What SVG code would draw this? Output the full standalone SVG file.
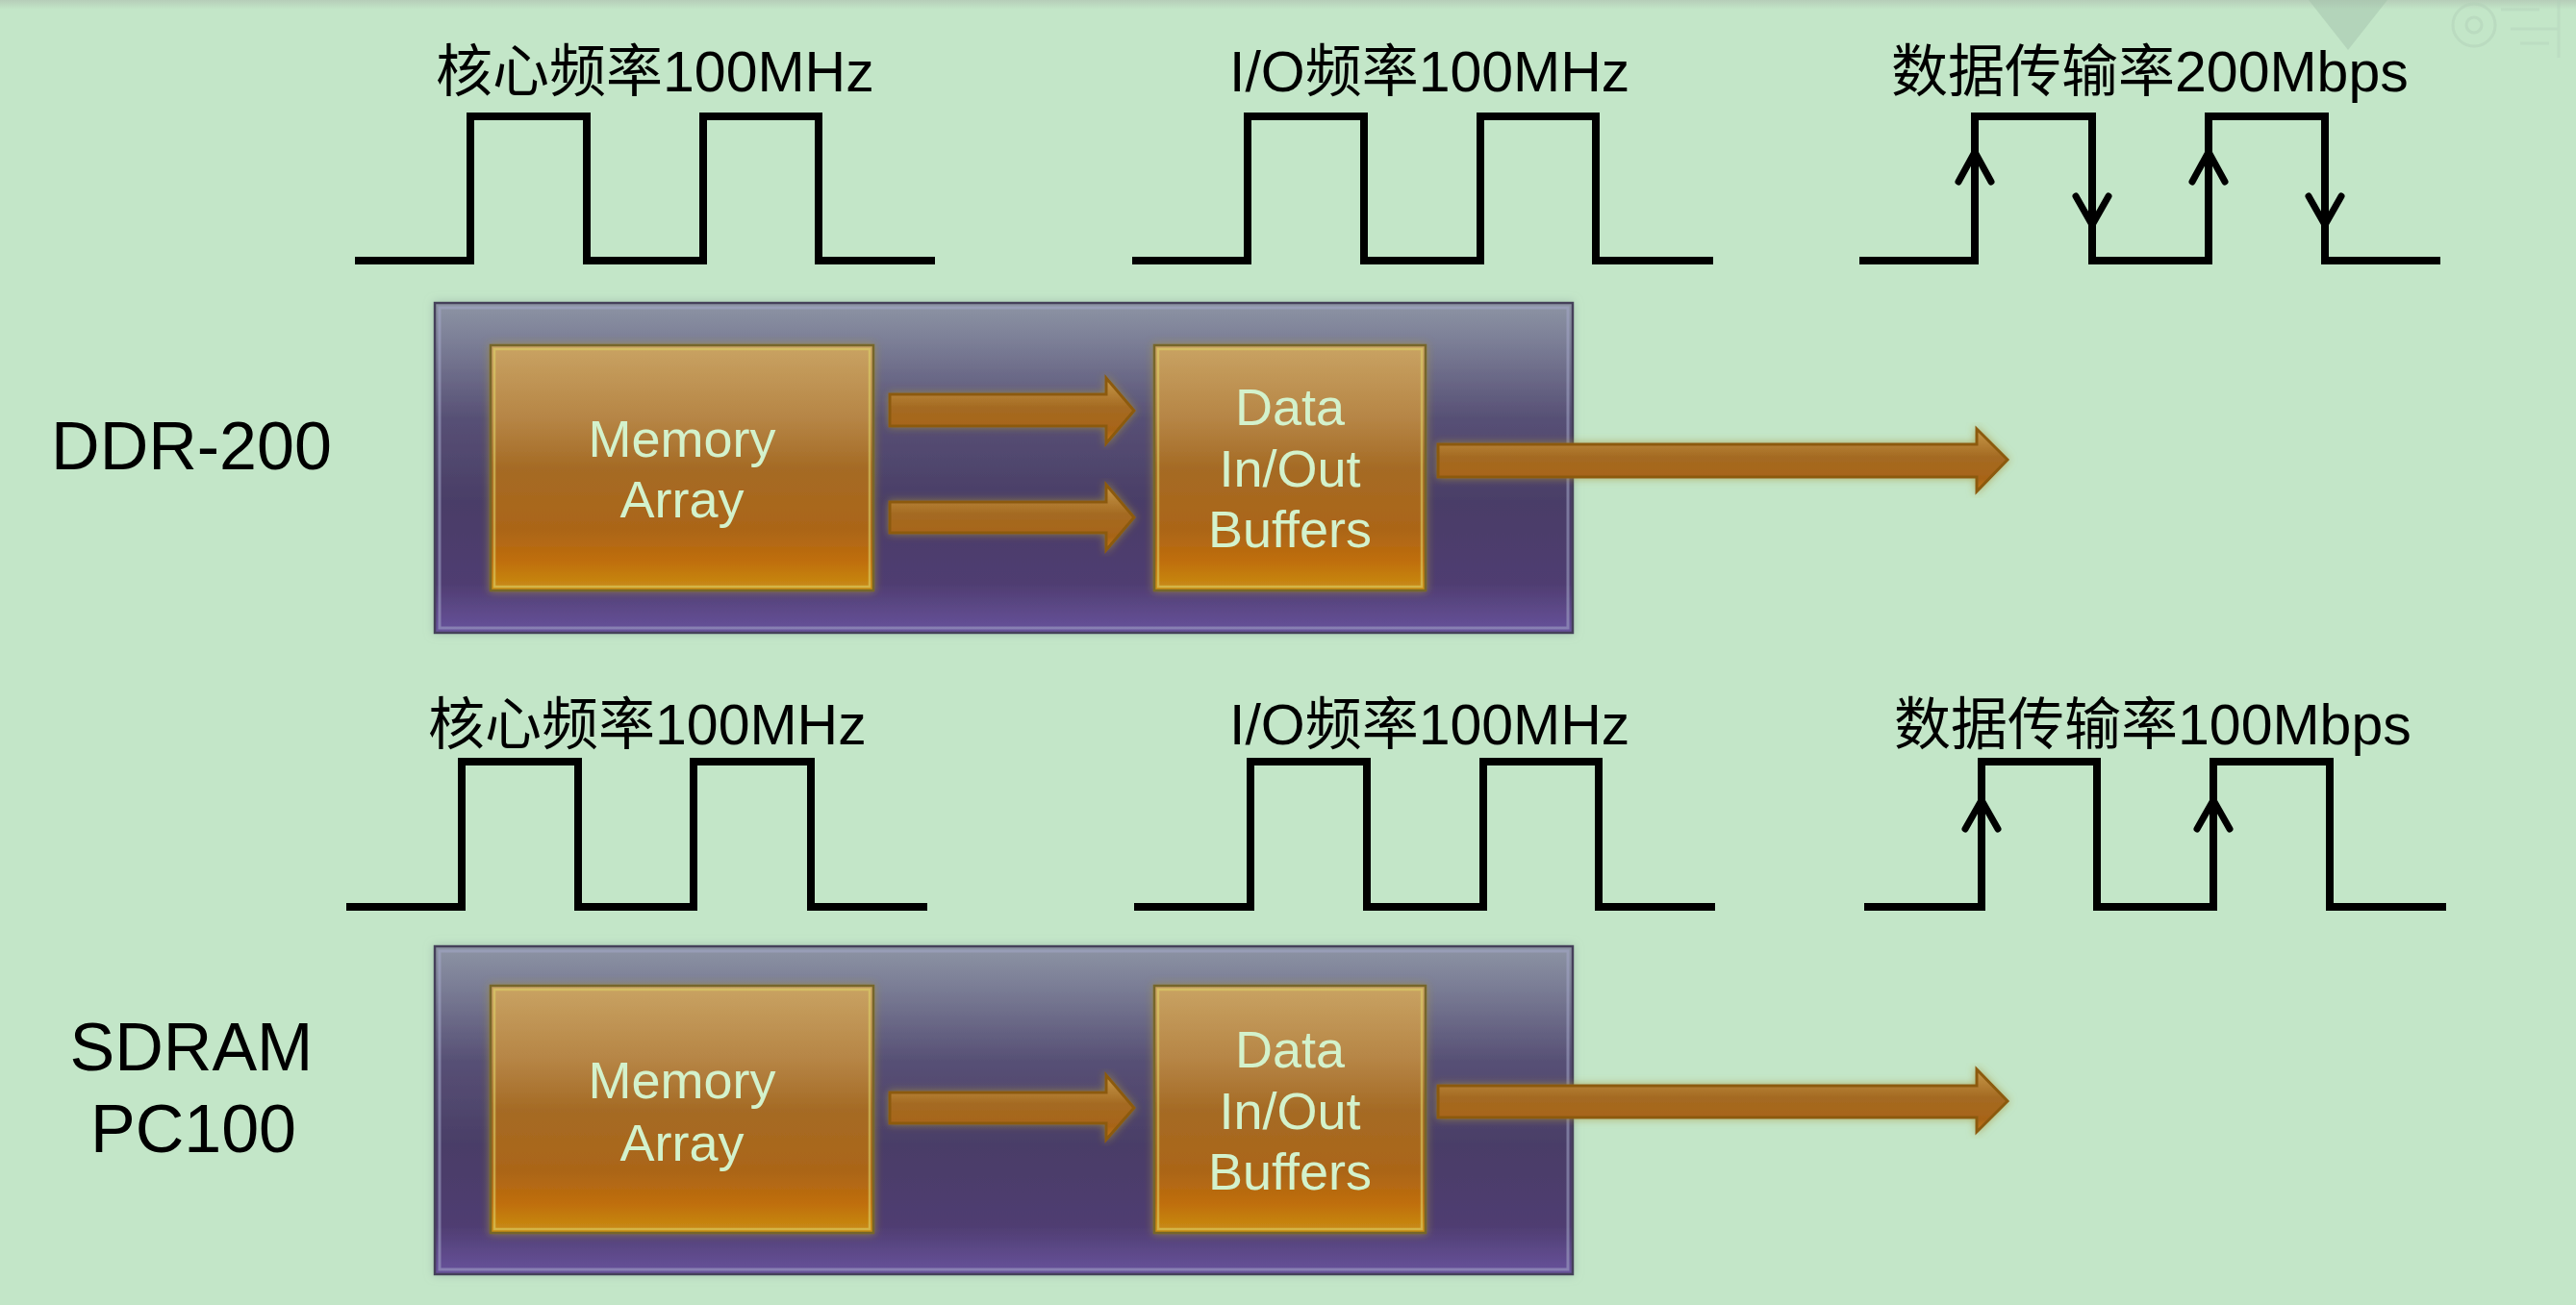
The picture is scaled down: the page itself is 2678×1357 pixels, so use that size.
<svg xmlns="http://www.w3.org/2000/svg" width="2678" height="1357" viewBox="0 0 2678 1357">
<defs>
<linearGradient id="gPurple" x1="0" y1="0" x2="0" y2="1">
<stop offset="0" stop-color="#8d94a4"/>
<stop offset="0.12" stop-color="#7b7e96"/>
<stop offset="0.35" stop-color="#575075"/>
<stop offset="0.6" stop-color="#4a3e67"/>
<stop offset="0.85" stop-color="#4f3d71"/>
<stop offset="1" stop-color="#68539c"/>
</linearGradient>
<linearGradient id="gOrange" x1="0" y1="0" x2="0" y2="1">
<stop offset="0" stop-color="#c9a363"/>
<stop offset="0.3" stop-color="#b68545"/>
<stop offset="0.5" stop-color="#a56b25"/>
<stop offset="0.75" stop-color="#ab6518"/>
<stop offset="0.88" stop-color="#bf6e0c"/>
<stop offset="1" stop-color="#c98e14"/>
</linearGradient>
<linearGradient id="gArrow" x1="0" y1="0" x2="0" y2="1">
<stop offset="0" stop-color="#c89a4a"/>
<stop offset="0.45" stop-color="#a46a22"/>
<stop offset="0.8" stop-color="#a86418"/>
<stop offset="1" stop-color="#c87a12"/>
</linearGradient>
<linearGradient id="gTop" x1="0" y1="0" x2="0" y2="1">
<stop offset="0" stop-color="#b6cdb9"/>
<stop offset="1" stop-color="#c3e6c8"/>
</linearGradient>
<filter id="glow" x="-10%" y="-10%" width="120%" height="120%">
<feDropShadow dx="0" dy="0" stdDeviation="4" flood-color="#a89438" flood-opacity="0.7"/>
</filter>
<filter id="soft" x="-5%" y="-5%" width="110%" height="110%">
<feDropShadow dx="0" dy="0" stdDeviation="5" flood-color="#90a8a0" flood-opacity="0.6"/>
</filter>
<style>
.wave{fill:none;stroke:#000;stroke-width:8;stroke-linejoin:miter;stroke-linecap:butt}
.tick{fill:none;stroke:#000;stroke-width:7;stroke-linecap:round;stroke-linejoin:miter}
.lbl{font-family:"Liberation Sans","Noto Sans CJK SC",sans-serif;font-size:59px;fill:#000}
.side{font-family:"Liberation Sans",Arial,sans-serif;font-size:70px;fill:#000;text-anchor:middle}
.panel{fill:url(#gPurple);stroke:#45405a;stroke-width:2.5}
.panelIn{fill:none;stroke:#a4a8c8;stroke-opacity:0.55;stroke-width:3}
.blk{fill:url(#gOrange);stroke:#76662a;stroke-width:2.5;filter:url(#glow)}
.blkIn{fill:none;stroke:#dcd068;stroke-opacity:0.6;stroke-width:2.5}
.btxt{font-family:"Liberation Sans",Arial,sans-serif;font-size:54px;fill:#d3f2cc;text-anchor:middle}
.arr{fill:url(#gArrow);stroke:#8c5a10;stroke-width:3;stroke-linejoin:miter;filter:url(#glow)}
</style>
</defs>

<g id="background">
<rect x="0" y="0" width="2678" height="1357" fill="#c3e6c8"/>
<rect x="0" y="0" width="2678" height="10" fill="url(#gTop)"/>
<polygon points="2400,0 2482,0 2441,52" fill="#9fbfa8" opacity="0.45"/>
<circle cx="2572" cy="26" r="22" fill="none" stroke="#b2d0b8" stroke-width="3" opacity="0.5"/>
<circle cx="2572" cy="26" r="8" fill="none" stroke="#b2d0b8" stroke-width="3" opacity="0.5"/>
<path d="M2600,10 h40 M2610,30 h50 M2620,45 h30 M2660,0 v60" stroke="#b2d0b8" stroke-width="3" opacity="0.4" fill="none"/>
</g>

<g id="ddr-labels">
<text class="lbl" x="453" y="95">核心频率100MHz</text>
<text class="lbl" x="1278" y="95">I/O频率100MHz</text>
<text class="lbl" x="1966" y="95">数据传输率200Mbps</text>
</g>

<g id="ddr-waves">
<path class="wave" d="M369,271 H489 V121 H610 V271 H731 V121 H851 V271 H972"/>
<path class="wave" d="M1177,271 H1297 V121 H1418 V271 H1539 V121 H1659 V271 H1781"/>
<path class="wave" d="M1933,271 H2053 V121 H2175 V271 H2296 V121 H2417 V271 H2537"/>
<path class="tick" d="M2036,189 L2053,158 L2070,189 M2279,189 L2296,158 L2313,189"/>
<path class="tick" d="M2158,204 L2175,234 L2192,204 M2400,204 L2417,234 L2434,204"/>
</g>

<g id="ddr-label">
<text class="side" x="199" y="488">DDR-200</text>
</g>

<g id="ddr-panel">
<rect class="panel" x="452" y="315" width="1183" height="343" filter="url(#soft)"/>
<rect class="panelIn" x="457" y="320" width="1173" height="333"/>
</g>

<g id="ddr-memory-array">
<rect class="blk" x="510" y="359" width="398" height="255"/>
<rect class="blkIn" x="514" y="363" width="390" height="247"/>
<text class="btxt" x="709" y="475">Memory</text>
<text class="btxt" x="709" y="538">Array</text>
</g>

<g id="ddr-data-buffers">
<rect class="blk" x="1200" y="359" width="282" height="255"/>
<rect class="blkIn" x="1204" y="363" width="274" height="247"/>
<text class="btxt" x="1341" y="442">Data</text>
<text class="btxt" x="1341" y="506">In/Out</text>
<text class="btxt" x="1341" y="569">Buffers</text>
</g>

<g id="sdram-labels">
<text class="lbl" x="445" y="774">核心频率100MHz</text>
<text class="lbl" x="1278" y="774">I/O频率100MHz</text>
<text class="lbl" x="1969" y="774">数据传输率100Mbps</text>
</g>

<g id="sdram-waves">
<path class="wave" d="M360,943 H480 V792 H601 V943 H721 V792 H843 V943 H964"/>
<path class="wave" d="M1179,943 H1300 V792 H1421 V943 H1542 V792 H1662 V943 H1783"/>
<path class="wave" d="M1938,943 H2060 V792 H2180 V943 H2301 V792 H2422 V943 H2543"/>
<path class="tick" d="M2043,862 L2060,832 L2077,862 M2284,862 L2301,832 L2318,862"/>
</g>

<g id="sdram-label">
<text class="side" x="199" y="1113">SDRAM</text>
<text class="side" x="201" y="1198">PC100</text>
</g>

<g id="sdram-panel">
<rect class="panel" x="452" y="984" width="1183" height="341" filter="url(#soft)"/>
<rect class="panelIn" x="457" y="989" width="1173" height="331"/>
</g>

<g id="sdram-memory-array">
<rect class="blk" x="510" y="1025" width="398" height="257"/>
<rect class="blkIn" x="514" y="1029" width="390" height="249"/>
<text class="btxt" x="709" y="1142">Memory</text>
<text class="btxt" x="709" y="1207">Array</text>
</g>

<g id="sdram-data-buffers">
<rect class="blk" x="1200" y="1025" width="282" height="257"/>
<rect class="blkIn" x="1204" y="1029" width="274" height="249"/>
<text class="btxt" x="1341" y="1110">Data</text>
<text class="btxt" x="1341" y="1174">In/Out</text>
<text class="btxt" x="1341" y="1237">Buffers</text>
</g>

<g id="connectors">
<polygon class="arr" points="925,410 1150,410 1150,393 1179,427 1150,461 1150,443 925,443"/>
<polygon class="arr" points="925,522 1150,522 1150,504 1179,538 1150,572 1150,554 925,554"/>
<polygon class="arr" points="1495,462 2055,462 2055,446 2087,478 2055,511 2055,496 1495,496"/>
<polygon class="arr" points="925,1136 1150,1136 1150,1118 1179,1152 1150,1185 1150,1168 925,1168"/>
<polygon class="arr" points="1495,1129 2055,1129 2055,1112 2087,1145 2055,1177 2055,1162 1495,1162"/>
</g>
</svg>
